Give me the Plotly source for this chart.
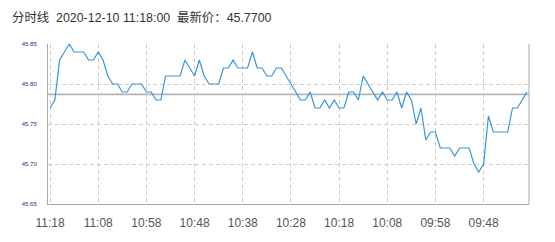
import plotly.graph_objects as go

times = [
    "11:18", "11:17", "11:16", "11:15", "11:14", "11:13", "11:12", "11:11", "11:10", "11:09",
    "11:08", "11:07", "11:06", "11:05", "11:04", "11:03", "11:02", "11:01", "11:00", "10:59",
    "10:58", "10:57", "10:56", "10:55", "10:54", "10:53", "10:52", "10:51", "10:50", "10:49",
    "10:48", "10:47", "10:46", "10:45", "10:44", "10:43", "10:42", "10:41", "10:40", "10:39",
    "10:38", "10:37", "10:36", "10:35", "10:34", "10:33", "10:32", "10:31", "10:30", "10:29",
    "10:28", "10:27", "10:26", "10:25", "10:24", "10:23", "10:22", "10:21", "10:20", "10:19",
    "10:18", "10:17", "10:16", "10:15", "10:14", "10:13", "10:12", "10:11", "10:10", "10:09",
    "10:08", "10:07", "10:06", "10:05", "10:04", "10:03", "10:02", "10:01", "10:00", "09:59",
    "09:58", "09:57", "09:56", "09:55", "09:54", "09:53", "09:52", "09:51", "09:50", "09:49",
    "09:48", "09:47", "09:46", "09:45", "09:44", "09:43", "09:42", "09:41", "09:40", "09:39",
]

prices = [
    45.77, 45.78, 45.83, 45.84, 45.85, 45.84, 45.84, 45.84, 45.83, 45.83,
    45.84, 45.83, 45.81, 45.80, 45.80, 45.79, 45.79, 45.80, 45.80, 45.80,
    45.79, 45.79, 45.78, 45.78, 45.81, 45.81, 45.81, 45.81, 45.83, 45.82,
    45.81, 45.83, 45.81, 45.80, 45.80, 45.80, 45.82, 45.82, 45.83, 45.82,
    45.82, 45.82, 45.84, 45.82, 45.82, 45.81, 45.81, 45.82, 45.82, 45.81,
    45.80, 45.79, 45.78, 45.78, 45.79, 45.77, 45.77, 45.78, 45.77, 45.78,
    45.77, 45.77, 45.79, 45.79, 45.78, 45.81, 45.80, 45.79, 45.78, 45.79,
    45.78, 45.78, 45.79, 45.77, 45.79, 45.78, 45.75, 45.77, 45.73, 45.74,
    45.74, 45.72, 45.72, 45.72, 45.71, 45.72, 45.72, 45.72, 45.70, 45.69,
    45.70, 45.76, 45.74, 45.74, 45.74, 45.74, 45.77, 45.77, 45.78, 45.79,
]

prev_close = 45.787

x_tick_labels = ["11:18", "11:08", "10:58", "10:48", "10:38", "10:28",
                 "10:18", "10:08", "09:58", "09:48"]
y_tick_values = [45.65, 45.70, 45.75, 45.80, 45.85]
y_tick_labels = ["45.65", "45.70", "45.75", "45.80", "45.85"]

title_text = "分时线  2020-12-10 11:18:00  最新价：45.7700"

FONT = "Liberation Sans, Arial, Noto Sans CJK SC, sans-serif"

fig = go.Figure()
fig.add_trace(go.Scatter(
    x=times, y=prices, mode="lines",
    line=dict(color="#3796dc", width=1.2),
    hoverinfo="x+y", showlegend=False,
))

fig.add_shape(type="line", xref="paper", x0=0, x1=1, yref="y",
              y0=prev_close, y1=prev_close,
              line=dict(color="#b4b4b4", width=1.6), layer="below")
fig.add_shape(type="line", xref="paper", x0=1, x1=1, yref="paper",
              y0=0, y1=1, line=dict(color="#a8a8a8", width=1))

fig.update_layout(
    width=555, height=242,
    margin=dict(l=48, r=26, t=44, b=28),
    paper_bgcolor="white", plot_bgcolor="white",
    title=dict(text=title_text, x=12 / 555, xanchor="left", xref="container",
               y=1 - 18 / 242, yanchor="middle", yref="container",
               font=dict(family=FONT, size=12.4, color="#333333")),
    font=dict(family=FONT),
)

fig.update_xaxes(
    type="category", range=[-0.42, 99.42],
    tickmode="array", tickvals=x_tick_labels, ticktext=x_tick_labels,
    showgrid=True, gridcolor="#cccccc", griddash="4px,3px", gridwidth=1,
    showline=True, linecolor="#a8a8a8", linewidth=1,
    ticks="", ticklabelstandoff=8,
    tickfont=dict(size=12, color="#555555", family=FONT),
    zeroline=False, fixedrange=True,
)
fig.update_yaxes(
    range=[45.65, 45.85],
    tickmode="array", tickvals=y_tick_values, ticktext=y_tick_labels,
    showgrid=True, gridcolor="#cccccc", griddash="4px,3px", gridwidth=1,
    showline=True, linecolor="#a8a8a8", linewidth=1,
    ticks="", ticklabelstandoff=9,
    tickfont=dict(size=6, color="#2a2a80", family=FONT),
    zeroline=False, fixedrange=True,
)

fig.write_html("out.html")
